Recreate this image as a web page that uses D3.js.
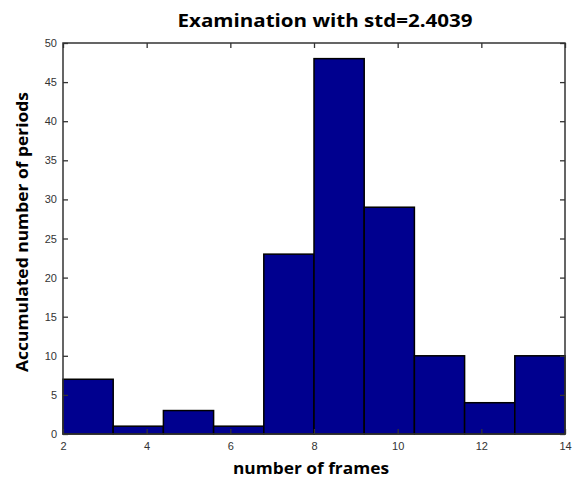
<!DOCTYPE html>
<html>
<head>
<meta charset="utf-8">
<script src="https://cdn.jsdelivr.net/npm/d3@7"></script>
<style>
  html, body { margin: 0; padding: 0; background: #fff; }
  svg { display: block; }
</style>
</head>
<body>
<svg id="chart" width="574" height="478"></svg>
<script>
// Histogram bins (edges) and counts
const binEdges = [2, 3.2, 4.4, 5.6, 6.8, 8, 9.2, 10.4, 11.6, 12.8, 14];
const counts = [7, 1, 3, 1, 23, 48, 29, 10, 4, 10];
const xTicks = [2, 4, 6, 8, 10, 12, 14];
const yTicks = [0, 5, 10, 15, 20, 25, 30, 35, 40, 45, 50];

const titleText = "Examination with std=2.4039";
const xLabel = "number of frames";
const yLabel = "Accumulated number of periods";

const svg = d3.select("#chart");
const margin = { left: 63, right: 9, top: 43, bottom: 44 };
const W = 574, H = 478;

const x = d3.scaleLinear().domain([2, 14]).range([margin.left, W - margin.right]);
const y = d3.scaleLinear().domain([0, 50]).range([H - margin.bottom, margin.top]);

const bins = counts.map((c, i) => ({ x0: binEdges[i], x1: binEdges[i + 1], c }));

// bars
svg.append("g")
  .selectAll("rect")
  .data(bins)
  .join("rect")
  .attr("x", d => x(d.x0))
  .attr("y", d => y(d.c))
  .attr("width", d => x(d.x1) - x(d.x0))
  .attr("height", d => y(0) - y(d.c))
  .attr("fill", "#00008f")
  .attr("stroke", "#000")
  .attr("stroke-width", 1.5);

const tickStyle = g => {
  g.select(".domain").remove();
  g.selectAll(".tick line").attr("stroke", "#333").attr("stroke-width", 1.3);
  g.selectAll(".tick text")
    .attr("fill", "#333")
    .style("font-family", "Arial, 'Liberation Sans', sans-serif")
    .style("font-size", "11px");
};

// bottom axis (ticks inward)
svg.append("g")
  .attr("transform", `translate(0,${y(0)})`)
  .call(d3.axisBottom(x).tickValues(xTicks).tickSize(-5).tickPadding(8).tickFormat(d3.format("d")))
  .call(tickStyle);

// top axis ticks
svg.append("g")
  .attr("transform", `translate(0,${y(50)})`)
  .call(d3.axisTop(x).tickValues(xTicks).tickSize(-5).tickFormat(""))
  .call(tickStyle);

// left axis
svg.append("g")
  .attr("transform", `translate(${x(2)},0)`)
  .call(d3.axisLeft(y).tickValues(yTicks).tickSize(-5).tickPadding(6).tickFormat(d3.format("d")))
  .call(tickStyle);

// right axis ticks
svg.append("g")
  .attr("transform", `translate(${x(14)},0)`)
  .call(d3.axisRight(y).tickValues(yTicks).tickSize(-5).tickFormat(""))
  .call(tickStyle);

// frame
svg.append("rect")
  .attr("x", x(2)).attr("y", y(50))
  .attr("width", x(14) - x(2)).attr("height", y(0) - y(50))
  .attr("fill", "none").attr("stroke", "#333").attr("stroke-width", 1.5);

const labelFont = "'Open Sans', 'Noto Sans', sans-serif";

svg.append("text")
  .attr("x", 325).attr("y", 27)
  .attr("text-anchor", "middle")
  .attr("textLength", 295)
  .attr("lengthAdjust", "spacingAndGlyphs")
  .style("font-family", labelFont)
  .style("font-weight", "bold")
  .style("font-size", "18px")
  .attr("fill", "#000")
  .text(titleText);

svg.append("text")
  .attr("x", 311).attr("y", 474)
  .attr("text-anchor", "middle")
  .attr("textLength", 156)
  .attr("lengthAdjust", "spacingAndGlyphs")
  .style("font-family", labelFont)
  .style("font-weight", "bold")
  .style("font-size", "16px")
  .attr("fill", "#000")
  .text(xLabel);

svg.append("text")
  .attr("transform", `translate(28,232) rotate(-90)`)
  .attr("text-anchor", "middle")
  .attr("textLength", 280)
  .attr("lengthAdjust", "spacingAndGlyphs")
  .style("font-family", labelFont)
  .style("font-weight", "bold")
  .style("font-size", "16px")
  .attr("fill", "#000")
  .text(yLabel);
</script>
</body>
</html>
